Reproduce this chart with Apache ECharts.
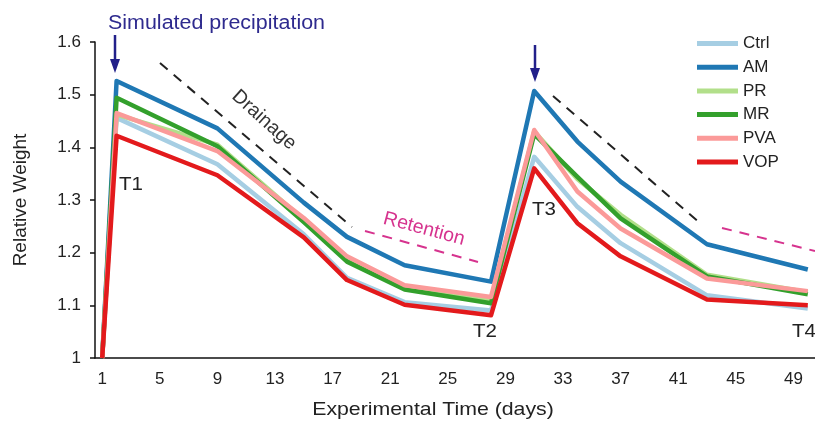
<!DOCTYPE html>
<html>
<head>
<meta charset="utf-8">
<script src="https://cdn.jsdelivr.net/npm/echarts@6/dist/echarts.min.js"></script>
<style>html,body{margin:0;padding:0;background:#fff;}#c{width:815px;height:421px;}</style>
</head>
<body>
<div id="c"></div>
<script>
// ---- data ----
const days   = [1, 2, 9, 15, 18, 22, 28, 31, 34, 37, 43, 50];
const ctrl   = [1.0, 1.456, 1.368, 1.235, 1.152, 1.106, 1.090, 1.382, 1.287, 1.218, 1.119, 1.094];
const am     = [1.0, 1.526, 1.436, 1.295, 1.230, 1.176, 1.145, 1.507, 1.411, 1.335, 1.216, 1.168];
const pr     = [1.0, 1.462, 1.405, 1.262, 1.188, 1.135, 1.110, 1.430, 1.340, 1.272, 1.158, 1.125];
const mr     = [1.0, 1.494, 1.402, 1.258, 1.183, 1.130, 1.104, 1.425, 1.344, 1.265, 1.155, 1.121];
const pva    = [1.0, 1.465, 1.393, 1.266, 1.193, 1.138, 1.116, 1.433, 1.316, 1.246, 1.151, 1.127];
const vop    = [1.0, 1.422, 1.347, 1.229, 1.148, 1.101, 1.081, 1.360, 1.256, 1.193, 1.111, 1.100];
const seriesNames = ['Ctrl', 'AM', 'PR', 'MR', 'PVA', 'VOP'];
const seriesValues = [ctrl, am, pr, mr, pva, vop];
const colors = ['#a6cee3', '#1f78b4', '#b2df8a', '#33a02c', '#fb9a99', '#e31a1c'];
const firstDay = 1, lastDay = 50;
const yTicks = [1, 1.6, 0.1]; // min, max, interval

const categories = [];
for (let d = firstDay; d <= lastDay; d++) categories.push(String(d));

const font = 'Liberation Sans, Arial, sans-serif';
const chart = echarts.init(document.getElementById('c'));

const series = seriesNames.map((n, i) => ({
  name: n,
  type: 'line',
  data: days.map((d, j) => [String(d), seriesValues[i][j]]),
  symbol: 'none',
  lineStyle: { width: 4.5, color: colors[i], join: 'round' },
  itemStyle: { color: colors[i] },
  z: 2 + i
}));

const navy = '#22208a';
const pink = '#d6338e';
const deg = Math.PI / 180;
const sx = 1.08;

function label(txt, x, y, opts) {
  return Object.assign({
    type: 'text', x: x, y: y, scaleX: sx,
    style: { text: txt, font: '19px ' + font, fill: '#222', textAlign: 'center', textVerticalAlign: 'middle' }
  }, opts || {});
}

chart.setOption({
  animation: false,
  grid: { left: 95, top: 42, width: 721, bottom: 63 },
  legend: {
    orient: 'vertical', left: 697, top: 35, padding: 0,
    icon: 'rect', itemWidth: 41, itemHeight: 5, itemGap: 6.7,
    textStyle: { fontFamily: font, fontSize: 17, color: '#222', lineHeight: 17 },
    data: seriesNames
  },
  xAxis: {
    type: 'category', data: categories, boundaryGap: true,
    axisLine: { lineStyle: { color: '#111', width: 1.5 } },
    axisTick: { interval: 3, length: 5, lineStyle: { color: '#111', width: 1.5 } },
    axisLabel: { interval: 3, margin: 13, fontFamily: font, fontSize: 17, color: '#222' },
    splitLine: { show: false }
  },
  yAxis: {
    type: 'value', min: yTicks[0], max: yTicks[1], interval: yTicks[2],
    name: 'Relative Weight', nameLocation: 'middle', nameGap: 65, nameRotate: 90,
    nameTextStyle: { fontFamily: font, fontSize: 19, color: '#222' },
    axisLine: { show: true, lineStyle: { color: '#111', width: 1.5 } },
    axisTick: { show: true, length: 5, lineStyle: { color: '#111', width: 1.5 } },
    axisLabel: { margin: 14, fontFamily: font, fontSize: 17, color: '#222' },
    splitLine: { show: false }
  },
  series: series,
  graphic: [
    { type: 'text', x: 108, y: 24, scaleX: 1.1, style: { text: 'Simulated precipitation', font: '19.5px ' + font, fill: '#2e2a8e', textVerticalAlign: 'middle' } },
    { type: 'line', shape: { x1: 115, y1: 35, x2: 115, y2: 62 }, style: { stroke: navy, lineWidth: 2.5 } },
    { type: 'polygon', shape: { points: [[110, 59], [120, 59], [115, 73]] }, style: { fill: navy } },
    { type: 'line', shape: { x1: 535, y1: 45, x2: 535, y2: 71 }, style: { stroke: navy, lineWidth: 2.5 } },
    { type: 'polygon', shape: { points: [[530, 68], [540, 68], [535, 82]] }, style: { fill: navy } },
    { type: 'line', shape: { x1: 160, y1: 63, x2: 352, y2: 227 }, style: { stroke: '#222', lineWidth: 2, lineDash: [10, 8] } },
    { type: 'line', shape: { x1: 553, y1: 96, x2: 700, y2: 223 }, style: { stroke: '#222', lineWidth: 2, lineDash: [10, 8] } },
    { type: 'line', shape: { x1: 365, y1: 231, x2: 478, y2: 262 }, style: { stroke: pink, lineWidth: 2, lineDash: [10, 8] } },
    { type: 'line', shape: { x1: 722, y1: 228, x2: 815, y2: 251 }, style: { stroke: pink, lineWidth: 2, lineDash: [10, 8] } },
    { type: 'text', x: 264, y: 120, rotation: -42 * deg, style: { text: 'Drainage', font: '19.5px ' + font, fill: '#333', textAlign: 'center', textVerticalAlign: 'middle' } },
    { type: 'text', x: 424, y: 229, rotation: -15 * deg, style: { text: 'Retention', font: '19.5px ' + font, fill: pink, textAlign: 'center', textVerticalAlign: 'middle' } },
    label('T1', 131, 185),
    label('T2', 485, 332),
    label('T3', 544, 210),
    { type: 'text', x: 816, y: 332, scaleX: sx, style: { text: 'T4', font: '19px ' + font, fill: '#222', textAlign: 'right', textVerticalAlign: 'middle' } },
    { type: 'text', x: 433, y: 410, scaleX: 1.12, style: { text: 'Experimental Time (days)', font: '19px ' + font, fill: '#222', textAlign: 'center', textVerticalAlign: 'middle' } }
  ]
});
</script>
</body>
</html>
